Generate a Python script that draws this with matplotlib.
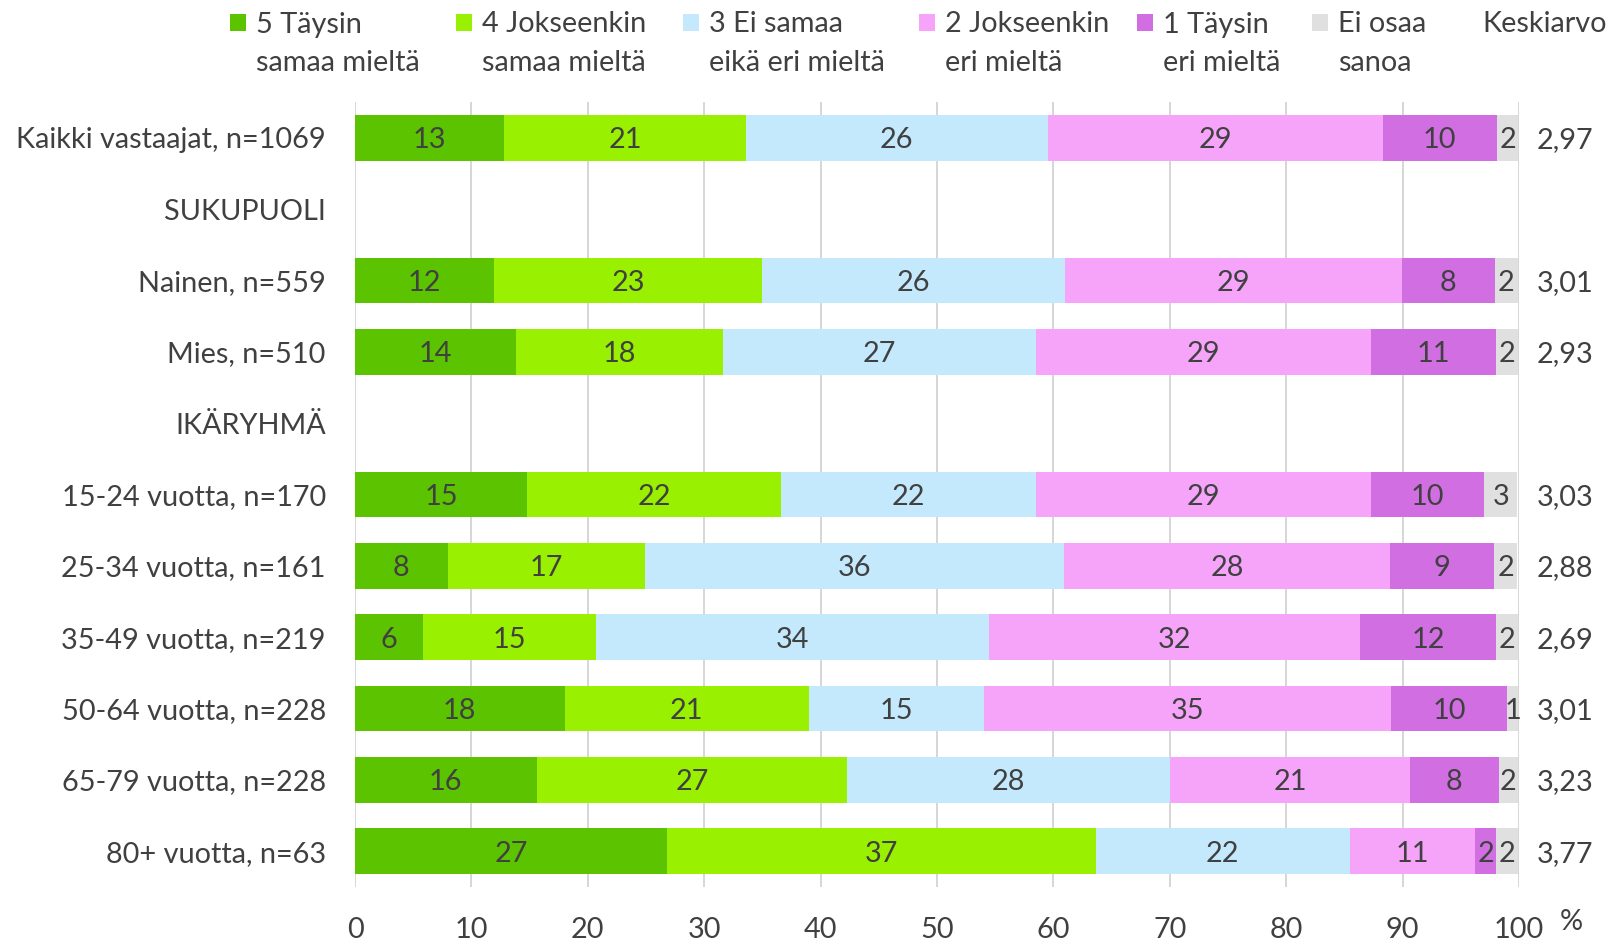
import matplotlib
matplotlib.use("Agg")
import matplotlib.pyplot as plt
from matplotlib.patches import Rectangle
import numpy as np

plt.rcParams['font.family'] = ['Lato', 'DejaVu Sans']

rows = ["Kaikki vastaajat, n=1069", "SUKUPUOLI", "Nainen, n=559", "Mies, n=510",
        "IKÄRYHMÄ", "15-24 vuotta, n=170", "25-34 vuotta, n=161", "35-49 vuotta, n=219",
        "50-64 vuotta, n=228", "65-79 vuotta, n=228", "80+ vuotta, n=63"]

categories = ["5 Täysin\nsamaa mieltä", "4 Jokseenkin\nsamaa mieltä", "3 Ei samaa\neikä eri mieltä",
              "2 Jokseenkin\neri mieltä", "1 Täysin\neri mieltä", "Ei osaa\nsanoa"]

nan = np.nan
s5 = [12.8, nan, 11.95, 13.8, nan, 14.8, 7.95, 5.8, 18.0, 15.6, 26.8]
s4 = [20.8, nan, 23.05, 17.8, nan, 21.8, 17.0, 14.9, 21.0, 26.7, 36.85]
s3 = [25.9, nan, 26.0, 26.9, nan, 21.9, 36.0, 33.8, 15.0, 27.7, 21.8]
s2 = [28.8, nan, 28.95, 28.8, nan, 28.8, 28.0, 31.8, 35.0, 20.65, 10.8]
s1 = [9.8, nan, 7.95, 10.75, nan, 9.7, 8.9, 11.75, 9.96, 7.6, 1.8]
s0 = [1.83, nan, 2.0, 1.83, nan, 2.86, 2.0, 1.83, 0.97, 1.65, 1.83]
series = [s5, s4, s3, s2, s1, s0]

means = ["2,97", "", "3,01", "2,93", "", "3,03", "2,88", "2,69", "3,01", "3,23", "3,77"]
mean_title = "Keskiarvo"
xticks = [0, 10, 20, 30, 40, 50, 60, 70, 80, 90, 100]

colors = ["#5CC300", "#99F000", "#C4E9FC", "#F5A4FA", "#D06EE2", "#E0E0E0"]
txt = "#404040"
FS = 20.8
DY = -0.36 * FS  # baseline offset (points) to centre digits/caps on a point

W, H = 1622, 942
fig = plt.figure(figsize=(W / 100, H / 100), dpi=100)
ax = fig.add_axes([355 / W, 1 - 887 / H, (1519 - 355) / W, (887 - 102) / H])

y = np.arange(len(rows))
left = np.zeros(len(rows))
for vals, col in zip(series, colors):
    v = np.array(vals, dtype=float)
    m = ~np.isnan(v)
    ax.barh(y[m], v[m], left=left[m], height=0.64, color=col, linewidth=0, zorder=2)
    for yi, vi, li in zip(y[m], v[m], left[m]):
        ax.annotate(f"{vi:.0f}", xy=(li + vi / 2, yi), xytext=(0, DY),
                    textcoords='offset points', ha='center', va='baseline',
                    fontsize=FS, color=txt, zorder=3)
    left[m] += v[m]

ax.set_xlim(0, 100)
ax.set_ylim(len(rows) - 0.5, -0.5)
ax.set_xticks(xticks)
ax.set_yticks(y)
ax.set_yticklabels(rows)
ax.tick_params(axis='both', length=0, labelsize=FS, labelcolor=txt)
ax.tick_params(axis='x', pad=21.5)
ax.tick_params(axis='y', pad=21)
ax.grid(axis='x', color='#D0D0D0', linewidth=1.2, zorder=0)
for s in ax.spines.values():
    s.set_visible(False)

for yi, mtxt in zip(y, means):
    ax.annotate(mtxt, xy=(1, yi), xycoords=('axes fraction', 'data'),
                xytext=(13, DY), textcoords='offset points',
                ha='left', va='baseline', fontsize=FS, color=txt)

fig.text(1560 / W, 1 - 922 / H, "%", ha='left', va='center', fontsize=FS, color=txt)

# legend
sq_x = [230, 456, 683, 919, 1137, 1312]
for xs, lab, col in zip(sq_x, categories, colors):
    fig.patches.append(Rectangle((xs / W, 1 - 31 / H), 16 / W, 17 / H,
                                 transform=fig.transFigure, color=col, linewidth=0))
    l1, l2 = lab.split("\n")
    fig.text((xs + 26) / W, 1 - 32.5 / H, l1, ha='left', va='baseline', fontsize=FS, color=txt)
    fig.text((xs + 26) / W, 1 - 71 / H, l2, ha='left', va='baseline', fontsize=FS, color=txt)
fig.text(1482 / W, 1 - 32.5 / H, mean_title, ha='left', va='baseline', fontsize=FS, color=txt)

fig.savefig("out.png", dpi=100)
